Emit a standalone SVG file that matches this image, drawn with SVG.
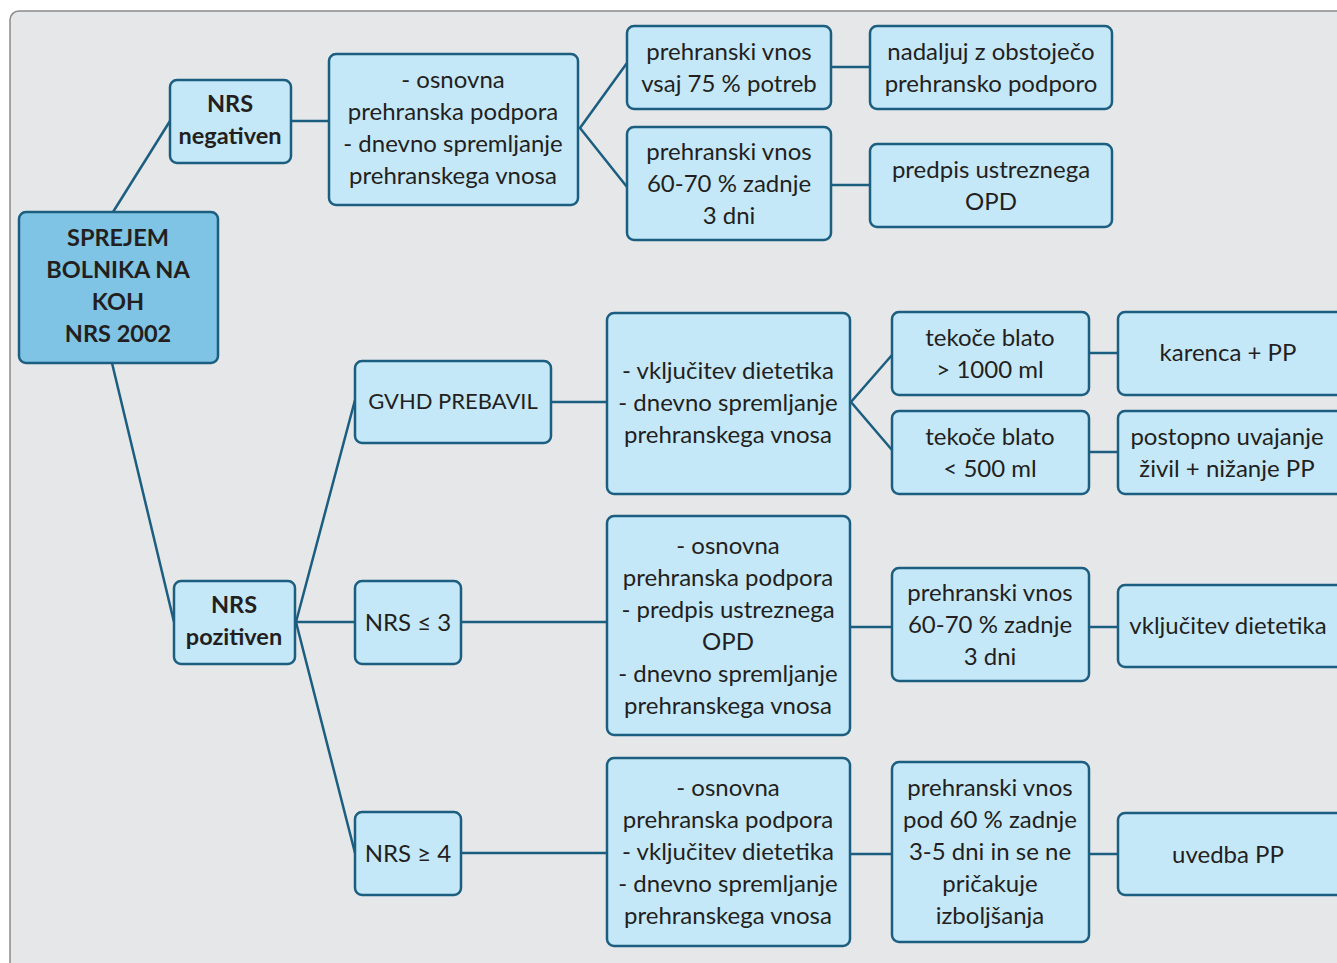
<svg xmlns="http://www.w3.org/2000/svg" width="1337" height="963" viewBox="0 0 1337 963">
<style>
.bg{fill:#e6e7e9;stroke:#8a8a8a;stroke-width:1.5}
.n{fill:#c5e8f8;stroke:#1b5e80;stroke-width:2.5}
.r{fill:#7fc4e4;stroke:#1b5e80;stroke-width:2.5}
.c{fill:none;stroke:#1b5e80;stroke-width:2.5}
text{font-family:Lato,"Noto Sans",sans-serif;font-size:24px;fill:#231f20;text-anchor:middle;dominant-baseline:central}
.b{font-weight:bold;font-size:23.5px}
.s{font-size:22px}
</style>
<rect class="bg" x="10" y="11" width="1360" height="990" rx="9"/>
<g id="connectors">
<path class="c" d="M113,212 L170,121"/>
<path class="c" d="M291,121 L329,121"/>
<path class="c" d="M627,63 L580,128 L627,187"/>
<path class="c" d="M831,67 L870,67"/>
<path class="c" d="M831,185 L870,185"/>
<path class="c" d="M112,363 L174,622"/>
<path class="c" d="M355,400 L296,622 L355,853"/>
<path class="c" d="M295,622 L355,622"/>
<path class="c" d="M551,402 L607,402"/>
<path class="c" d="M892,355 L851,402 L892,450"/>
<path class="c" d="M1089,353 L1118,353"/>
<path class="c" d="M1089,452 L1118,452"/>
<path class="c" d="M461,622 L607,622"/>
<path class="c" d="M850,627 L892,627"/>
<path class="c" d="M1089,627 L1118,627"/>
<path class="c" d="M461,853 L607,853"/>
<path class="c" d="M850,854 L892,854"/>
<path class="c" d="M1089,854 L1118,854"/>
</g>
<g id="root"><rect class="r" x="19" y="212" width="199" height="151" rx="7"/>
<text class="b" x="118" y="237">SPREJEM</text><text class="b" x="118" y="269">BOLNIKA NA</text><text class="b" x="118" y="301">KOH</text><text class="b" x="118" y="333">NRS 2002</text></g>
<g id="nrs-neg"><rect class="n" x="170" y="80" width="121" height="83" rx="7"/>
<text class="b" x="230" y="103">NRS</text><text class="b" x="230" y="135">negativen</text></g>
<g id="neg-plan"><rect class="n" x="329" y="54" width="249" height="151" rx="7"/>
<text x="453" y="78">- osnovna</text><text x="453" y="110">prehranska podpora</text><text x="453" y="142">- dnevno spremljanje</text><text x="453" y="174">prehranskega vnosa</text></g>
<g id="neg-75"><rect class="n" x="627" y="26" width="204" height="83" rx="7"/>
<text x="729" y="50">prehranski vnos</text><text x="729" y="82">vsaj 75 % potreb</text></g>
<g id="neg-60"><rect class="n" x="627" y="127" width="204" height="113" rx="7"/>
<text x="729" y="150">prehranski vnos</text><text x="729" y="182">60-70 % zadnje</text><text x="729" y="214">3 dni</text></g>
<g id="neg-75-out"><rect class="n" x="870" y="26" width="242" height="83" rx="7"/>
<text x="991" y="50">nadaljuj z obstoječo</text><text x="991" y="82">prehransko podporo</text></g>
<g id="neg-60-out"><rect class="n" x="870" y="144" width="242" height="83" rx="7"/>
<text x="991" y="168">predpis ustreznega</text><text x="991" y="200">OPD</text></g>
<g id="nrs-poz"><rect class="n" x="174" y="581" width="121" height="83" rx="7"/>
<text class="b" x="234" y="604">NRS</text><text class="b" x="234" y="636">pozitiven</text></g>
<g id="gvhd"><rect class="n" x="355" y="361" width="196" height="82" rx="7"/>
<text class="s" x="453" y="400">GVHD PREBAVIL</text></g>
<g id="nrs3"><rect class="n" x="355" y="581" width="106" height="83" rx="7"/>
<text x="408" y="621">NRS ≤ 3</text></g>
<g id="nrs4"><rect class="n" x="355" y="812" width="106" height="83" rx="7"/>
<text x="408" y="852">NRS ≥ 4</text></g>
<g id="gvhd-plan"><rect class="n" x="607" y="313" width="243" height="181" rx="7"/>
<text x="728" y="369">- vključitev dietetika</text><text x="728" y="401">- dnevno spremljanje</text><text x="728" y="433">prehranskega vnosa</text></g>
<g id="blato1"><rect class="n" x="892" y="312" width="197" height="83" rx="7"/>
<text x="990" y="336">tekoče blato</text><text x="990" y="368">&gt; 1000 ml</text></g>
<g id="blato2"><rect class="n" x="892" y="411" width="197" height="83" rx="7"/>
<text x="990" y="435">tekoče blato</text><text x="990" y="467">&lt; 500 ml</text></g>
<g id="karenca"><rect class="n" x="1118" y="312" width="230" height="83" rx="7"/>
<text x="1228" y="351">karenca + PP</text></g>
<g id="postopno"><rect class="n" x="1118" y="411" width="230" height="83" rx="7"/>
<text x="1227" y="435">postopno uvajanje</text><text x="1227" y="467">živil + nižanje PP</text></g>
<g id="nrs3-plan"><rect class="n" x="607" y="516" width="243" height="219" rx="7"/>
<text x="728" y="544">- osnovna</text><text x="728" y="576">prehranska podpora</text><text x="728" y="608">- predpis ustreznega</text><text x="728" y="640">OPD</text><text x="728" y="672">- dnevno spremljanje</text><text x="728" y="704">prehranskega vnosa</text></g>
<g id="nrs3-vnos"><rect class="n" x="892" y="568" width="197" height="113" rx="7"/>
<text x="990" y="591">prehranski vnos</text><text x="990" y="623">60-70 % zadnje</text><text x="990" y="655">3 dni</text></g>
<g id="nrs3-out"><rect class="n" x="1118" y="585" width="230" height="82" rx="7"/>
<text x="1228" y="624">vključitev dietetika</text></g>
<g id="nrs4-plan"><rect class="n" x="607" y="758" width="243" height="188" rx="7"/>
<text x="728" y="786">- osnovna</text><text x="728" y="818">prehranska podpora</text><text x="728" y="850">- vključitev dietetika</text><text x="728" y="882">- dnevno spremljanje</text><text x="728" y="914">prehranskega vnosa</text></g>
<g id="nrs4-vnos"><rect class="n" x="892" y="762" width="197" height="180" rx="7"/>
<text x="990" y="786">prehranski vnos</text><text x="990" y="818">pod 60 % zadnje</text><text x="990" y="850">3-5 dni in se ne</text><text x="990" y="882">pričakuje</text><text x="990" y="914">izboljšanja</text></g>
<g id="nrs4-out"><rect class="n" x="1118" y="813" width="230" height="82" rx="7"/>
<text x="1228" y="853">uvedba PP</text></g>
</svg>
